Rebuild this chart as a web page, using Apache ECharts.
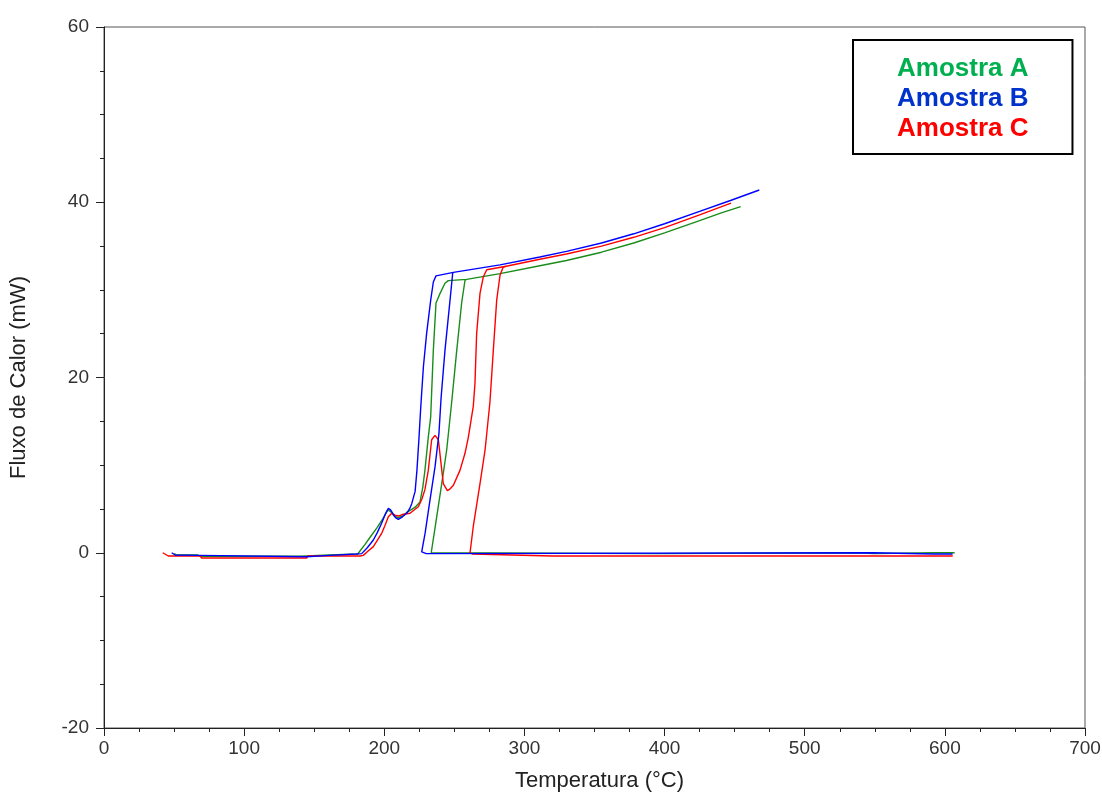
<!DOCTYPE html>
<html>
<head>
<meta charset="utf-8">
<title>Fluxo de Calor</title>
<script src="https://cdn.jsdelivr.net/npm/echarts@6/dist/echarts.min.js"></script>
<style>
  html, body { margin: 0; padding: 0; background: #fff; }
  #view1Data { width: 1102px; height: 792px; }
</style>
</head>
<body>
<div id="view1Data"></div>
<script>
// temperatura (°C), fluxo (mW)
const amostraA_ida = [
  [50, -0.1], [52, -0.26], [67, -0.26], [68.5, -0.4], [140, -0.4], [141, -0.26], [161, -0.26], [162, -0.14],
  [181, -0.14], [182, 0], [186, 0.9], [190, 1.8], [195, 2.9], [199, 3.9], [202.5, 4.9], [204.5, 4.7],
  [207, 4.2], [210, 4.0], [213, 4.2], [216, 4.6], [219, 4.9], [222, 5.2], [225.5, 5.8], [227.5, 7.5],
  [229, 9.4], [231.4, 13.2], [233.1, 15.5], [233.5, 17.1], [235, 23.1], [236.9, 28.5], [239.8, 29.6],
  [243.3, 30.75], [245.7, 31.05], [258.8, 31.2], [282.6, 31.85], [311, 32.75], [330, 33.35], [355, 34.3],
  [378, 35.35], [400, 36.5], [425, 37.9], [440, 38.75], [454.3, 39.5],
]
const amostraA_volta = [
  [607, 0], [592, 0], [592, -0.1], [549, -0.1], [549, 0], [537, 0], [537, -0.1], [395, -0.1], [395, 0],
  [233.5, 0], [233.1, 0.1], [237.4, 4.1], [241, 7.9], [244.5, 11.7], [248.1, 17.2], [251.7, 23.1],
  [255.2, 28.5], [257.6, 31.1], [258.8, 31.2],
]
const amostraB_ida = [
  [48.3, 0], [50.7, -0.26], [68, -0.3], [69, -0.45], [144.6, -0.45], [145, -0.3], [161, -0.3], [162, -0.14],
  [180, -0.14], [183.9, -0.1], [188, 0.6], [192.2, 1.46], [195, 2.3], [198.1, 3.36], [201, 4.5], [202.9, 5.07],
  [204.5, 4.9], [206.4, 4.4], [208, 4.0], [210, 3.8], [213, 4.1], [216, 4.5], [218, 5.0], [219.6, 5.6],
  [222, 7], [223.3, 9.4], [224.8, 13.2], [225.8, 16], [226.5, 17.8], [227.9, 21.2], [230.2, 25], [233.1, 28.8],
  [235, 30.9], [236.9, 31.6], [249.3, 32.0], [282.6, 32.85], [311, 33.75], [330, 34.4], [355, 35.35],
  [378, 36.4], [400, 37.55], [425, 38.95], [447, 40.2], [467.6, 41.4],
]
const amostraB_volta = [
  [605.5, -0.14], [592, -0.14], [592, 0], [549, 0], [549, -0.14], [230, -0.1], [226.7, 0.1], [229.1, 2.2],
  [232.6, 6.0], [236.2, 9.8], [239, 13.6], [240.5, 17.6], [243.3, 23.1], [246.9, 28.8], [248.8, 31.9],
  [249.3, 32.0],
]
const amostraC_ida = [
  [41.9, 0], [45.9, -0.37], [68.5, -0.37], [69.7, -0.6], [144.6, -0.6], [145.5, -0.37], [182.7, -0.37],
  [185, -0.3], [188.5, 0.2], [192.2, 0.7], [195, 1.4], [198.1, 2.2], [200.5, 3.1], [202.9, 4.1], [205.3, 4.5],
  [207.6, 4.3], [210.5, 4.2], [213.6, 4.4], [218.4, 4.5], [221.5, 4.9], [224.3, 5.25], [226.8, 6.1], [229, 7.2],
  [231.4, 9.4], [233.8, 12.9], [236.2, 13.4], [238.6, 12.9], [240.2, 10.6], [242.1, 7.9], [245, 7.1],
  [247, 7.3], [249.3, 7.7], [254, 9.4], [257.6, 11.35], [260, 13.2], [261.9, 15.1], [263.5, 16.7],
  [264.7, 19.3], [265.9, 25], [268.3, 29.6], [270.7, 31.5], [273.1, 32.3], [287, 32.7], [311, 33.5],
  [330, 34.1], [355, 35.0], [378, 36.0], [400, 37.1], [425, 38.55], [447.4, 39.9],
]
const amostraC_volta = [
  [605.6, -0.37], [320, -0.37], [320, -0.15], [263, -0.15], [261.2, 0], [263.5, 3], [268.3, 7.9],
  [271.9, 11.7], [275.4, 17.2], [277.8, 23.1], [280.2, 28.8], [282.6, 31.7], [284.9, 32.6], [287, 32.7],
]

const nomes = ["Amostra A", "Amostra B", "Amostra C"]
const coresLinha = ["#1a8c1a", "#0000ff", "#ff0000"]
const coresLegenda = ["#00b050", "#0033cc", "#ff0000"]

const fonte = "Liberation Sans, Arial, sans-serif"

function serie(nome, dados, cor, z) {
  return {
    name: nome,
    type: "line",
    data: dados,
    showSymbol: false,
    symbol: "none",
    z: z,
    lineStyle: { color: cor, width: 1.4 },
    itemStyle: { color: cor },
    emphasis: { disabled: true },
    animation: false,
  }
}

let myChart = echarts.init(document.getElementById("view1Data"))
myChart.setOption({
  animation: false,
  grid: {
    left: 104,
    right: 17,
    top: 27,
    bottom: 64,
    outerBoundsMode: "none",
    containLabel: false,
    show: true,
    borderColor: "#555",
    borderWidth: 1,
  },
  legend: {
    orient: "vertical",
    left: 853,
    top: 40,
    padding: [16, 44, 12, 39],
    itemGap: 4,
    itemWidth: 0,
    itemHeight: 0,
    borderColor: "#000",
    borderWidth: 2,
    selectedMode: false,
    data: nomes.map((n, i) => ({
      name: n,
      icon: "none",
      textStyle: { color: coresLegenda[i], fontSize: 26, fontWeight: "bold", fontFamily: fonte },
    })),
  },
  xAxis: {
    type: "value",
    min: 0,
    max: 700,
    interval: 100,
    name: "Temperatura (°C)",
    nameLocation: "middle",
    nameGap: 42,
    nameTextStyle: { fontSize: 22, color: "#222", fontFamily: fonte, padding: [0, 0, 0, 10] },
    axisLine: { onZero: false, lineStyle: { color: "#222", width: 1 } },
    axisTick: { show: true, length: 8, lineStyle: { color: "#222" } },
    minorTick: { show: true, splitNumber: 4, length: 4, lineStyle: { color: "#222" } },
    axisLabel: { fontSize: 19, color: "#333", margin: 11, fontFamily: fonte },
    splitLine: { show: false },
  },
  yAxis: {
    type: "value",
    min: -20,
    max: 60,
    interval: 20,
    name: "Fluxo de Calor (mW)",
    nameLocation: "middle",
    nameGap: 74,
    nameTextStyle: { fontSize: 22, color: "#222", fontFamily: fonte },
    axisLine: { show: true, lineStyle: { color: "#222", width: 1 } },
    axisTick: { show: true, length: 8, lineStyle: { color: "#222" } },
    minorTick: { show: true, splitNumber: 4, length: 4, lineStyle: { color: "#222" } },
    axisLabel: { fontSize: 19, color: "#333", margin: 15, fontFamily: fonte },
    splitLine: { show: false },
  },
  series: [
    serie(nomes[0], amostraA_ida, coresLinha[0], 2),
    serie(nomes[0], amostraA_volta, coresLinha[0], 2),
    serie(nomes[2], amostraC_ida, coresLinha[2], 3),
    serie(nomes[2], amostraC_volta, coresLinha[2], 3),
    serie(nomes[1], amostraB_ida, coresLinha[1], 4),
    serie(nomes[1], amostraB_volta, coresLinha[1], 4),
  ],
})

window.addEventListener("resize", () => {
  myChart.resize()
})
</script>
</body>
</html>
